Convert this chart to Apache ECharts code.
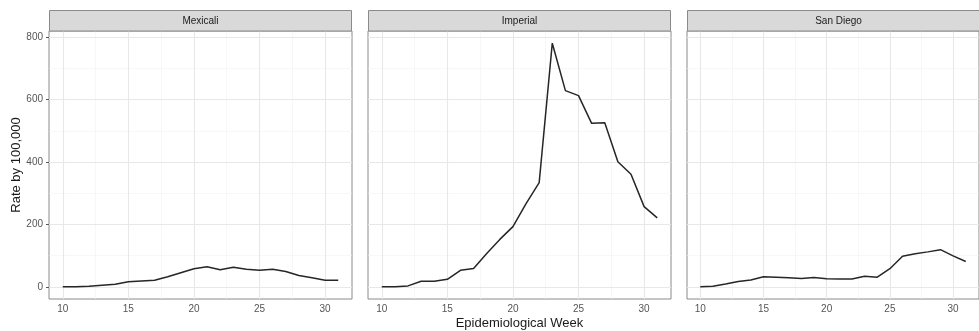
<!DOCTYPE html>
<html>
<head>
<meta charset="utf-8">
<script src="https://cdn.jsdelivr.net/npm/echarts@6/dist/echarts.min.js"></script>
<style>
html,body{margin:0;padding:0;background:#fff;}
#chart{width:979px;height:331px;}
</style>
</head>
<body>
<div id="chart"></div>
<script>
// ---- data ----
const weeks = [10,11,12,13,14,15,16,17,18,19,20,21,22,23,24,25,26,27,28,29,30,31];
const panelNames = ["Mexicali", "Imperial", "San Diego"];
const mexicali = [0,0,2,5,8,16,19,21,32,45,58,64,55,63,56,53,56,49,36,29,21,21];
const imperial = [0,0,3,18,18,24,53,59,107,152,193,267,334,781,629,613,524,526,401,361,257,221];
const sanDiego = [0,2,9,17,22,32,31,29,27,30,26,25,25,34,31,58,98,106,112,119,99,81];
const xTicks = [10,15,20,25,30];
const xMinor = [12.5,17.5,22.5,27.5];
const yTicks = [0,200,400,600,800];
const yMinor = [100,300,500,700];
const xTitle = "Epidemiological Week";
const yTitle = "Rate by 100,000";

const seriesValues = [mexicali, imperial, sanDiego];

// ---- layout ----
const panelLefts = [49, 368, 687];
const panelTop = 31, panelW = 303, panelH = 268;
const stripTop = 10.5, stripH = 20.5;
const borderCol = '#8a8a8a';
const FONT = 'Liberation Sans, Arial, sans-serif';

const allVals = mexicali.concat(imperial, sanDiego);
const yMaxData = Math.max(...allVals), yMinData = 0;
const yPad = (yMaxData - yMinData) * 0.05;
const xPad = (weeks[weeks.length-1] - weeks[0]) * 0.05;

const grids = [], xAxes = [], yAxes = [], series = [], graphics = [];

panelNames.forEach((name, i) => {
  grids.push({
    left: panelLefts[i], top: panelTop, width: panelW, height: panelH,
    show: true, borderColor: borderCol, borderWidth: 1, backgroundColor: '#fff',
    containLabel: false
  });
  xAxes.push({
    type: 'value', gridIndex: i,
    min: weeks[0] - xPad, max: weeks[weeks.length-1] + xPad,
    axisLine: {show: false},
    splitLine: {show: false},
    axisTick: {show: true, length: 3, lineStyle: {color: '#555'}, customValues: xTicks},
    axisLabel: {show: true, color: '#555', fontSize: 10, fontFamily: FONT,
                margin: 5, customValues: xTicks}
  });
  yAxes.push({
    type: 'value', gridIndex: i,
    min: yMinData - yPad, max: yMaxData + yPad,
    axisLine: {show: false},
    splitLine: {show: false},
    axisTick: {show: i === 0, length: 3, lineStyle: {color: '#555'}, customValues: yTicks},
    axisLabel: {show: i === 0, color: '#555', fontSize: 10, fontFamily: FONT,
                margin: 6, customValues: yTicks}
  });
  const gl = [];
  yMinor.forEach(v => gl.push({yAxis: v, lineStyle: {color: '#f2f2f2', width: 0.6, type: 'solid'}}));
  xMinor.forEach(v => gl.push({xAxis: v, lineStyle: {color: '#f2f2f2', width: 0.6, type: 'solid'}}));
  yTicks.forEach(v => gl.push({yAxis: v, lineStyle: {color: '#e8e8e8', width: 1.1, type: 'solid'}}));
  xTicks.forEach(v => gl.push({xAxis: v, lineStyle: {color: '#e8e8e8', width: 1.1, type: 'solid'}}));
  series.push({
    type: 'line', xAxisIndex: i, yAxisIndex: i, data: [], silent: true, z: 1,
    markLine: {silent: true, symbol: ['none','none'], label: {show: false}, animation: false, z: 1, data: gl}
  });
  series.push({
    type: 'line', name: name, xAxisIndex: i, yAxisIndex: i, z: 5,
    data: weeks.map((w, k) => [w, seriesValues[i][k]]),
    showSymbol: false, symbol: 'none', smooth: false,
    lineStyle: {color: '#262626', width: 1.5},
    silent: true, animation: false
  });
  graphics.push({
    type: 'rect', shape: {x: panelLefts[i] + 0.5, y: stripTop, width: panelW - 1, height: stripH},
    style: {fill: '#d9d9d9', stroke: borderCol, lineWidth: 1}, z: 10
  });
  graphics.push({
    type: 'text', x: panelLefts[i] + panelW / 2, y: stripTop + stripH / 2,
    style: {text: name, fill: '#1a1a1a', fontSize: 10, fontFamily: FONT,
            align: 'center', verticalAlign: 'middle'}, z: 11
  });
});

graphics.push({
  type: 'text', x: 519.5, y: 323,
  style: {text: xTitle, fill: '#1a1a1a', fontSize: 13, fontFamily: FONT,
          align: 'center', verticalAlign: 'middle'}, z: 11
});
graphics.push({
  type: 'text', x: 16, y: 165, rotation: Math.PI / 2,
  style: {text: yTitle, fill: '#1a1a1a', fontSize: 13, fontFamily: FONT,
          align: 'center', verticalAlign: 'middle'}, z: 11
});

const chart = echarts.init(document.getElementById('chart'), null, {renderer: 'canvas'});
chart.setOption({
  backgroundColor: '#fff',
  animation: false,
  grid: grids, xAxis: xAxes, yAxis: yAxes, series: series,
  graphic: graphics
});
</script>
</body>
</html>
